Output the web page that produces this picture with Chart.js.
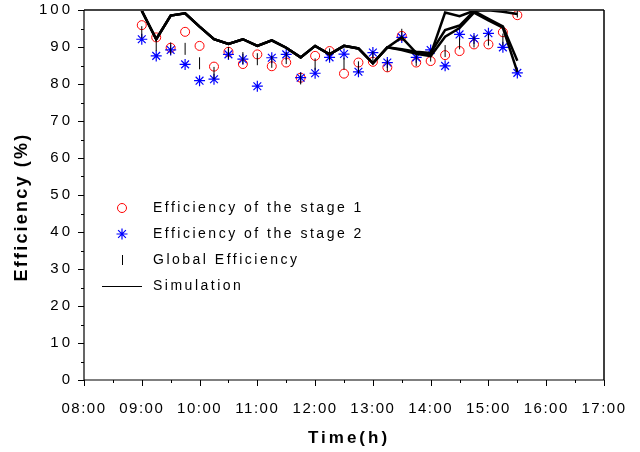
<!DOCTYPE html>
<html lang="en">
<head>
    <meta charset="UTF-8">
    <script src="https://cdn.jsdelivr.net/npm/chart.js"></script>
    <title>Efficiency vs time</title>
    <style>
        html, body { margin: 0; padding: 0; background: #fff; }
        #wrap { width: 640px; height: 452px; }
    </style>
</head>
<body>
    <div id="wrap"><canvas id="effChart"></canvas></div>
    <script>
        // measurement times, every 15 min
        const times = ['09:00', '09:15', '09:30', '09:45', '10:00', '10:15', '10:30', '10:45', '11:00',
            '11:15', '11:30', '11:45', '12:00', '12:15', '12:30', '12:45', '13:00', '13:15', '13:30',
            '13:45', '14:00', '14:15', '14:30', '14:45', '15:00', '15:15', '15:30'];

        const stage1 = [95.9, 92.6, 89.8, 94.1, 90.3, 84.7, 88.7, 85.4, 88.0, 84.8, 85.8, 81.7, 87.6, 88.9,
            82.8, 85.8, 86.0, 84.5, 93.0, 85.8, 86.2, 87.8, 88.9, 90.7, 90.7, 94.0, 98.6];
        const stage2 = [92.1, 87.6, 89.2, 85.3, 80.9, 81.3, 88.0, 86.7, 79.4, 87.1, 88.0, 81.7, 82.9, 87.2,
            88.1, 83.3, 88.5, 85.8, 92.6, 87.2, 89.2, 84.9, 93.4, 92.3, 93.7, 89.9, 83.0];
        const globalEff = [94.0, 90.5, 89.6, 89.5, 85.6, 83.0, 88.4, 87.0, 86.7, 86.0, 87.0, 81.5, 85.3, 88.0,
            85.5, 84.5, 87.2, 85.0, 93.3, 86.5, 87.7, 88.9, 91.0, 91.5, 92.0, 92.0, 99.6];

        // three simulation runs
        const simA = [99.8, 92.1, 98.5, 99.1, 95.5, 92.1, 90.8, 92.1, 90.3, 91.8, 89.8, 87.2, 90.3, 88.0,
            90.3, 89.6, 85.6, 89.9, 92.6, 88.4, 88.0, 99.3, 98.3, 99.8, 99.9, 99.5, 98.9];
        const simB = [99.8, 92.1, 98.5, 99.1, 95.5, 92.1, 90.8, 92.1, 90.3, 91.8, 89.8, 87.2, 90.3, 88.0,
            90.3, 89.6, 85.6, 89.9, 89.4, 88.7, 88.4, 94.6, 95.8, 99.7, 97.6, 95.6, 86.3];
        const simC = [99.8, 92.1, 98.5, 99.1, 95.5, 92.1, 90.8, 92.1, 90.3, 91.8, 89.8, 87.2, 90.3, 88.0,
            90.3, 89.6, 85.6, 89.9, 89.2, 88.2, 87.5, 92.8, 95.1, 99.3, 97.2, 95.2, 83.3];

        const legendLabels = ['Efficiency of the stage 1', 'Efficiency of the stage 2', 'Global Efficiency', 'Simulation'];
        const xTitle = 'Time(h)';
        const yTitle = 'Efficiency (%)';

        const FONT = "'Liberation Sans', Arial, sans-serif";

        function toHours(t) {
            const p = t.split(':');
            return +p[0] + (+p[1]) / 60;
        }
        function fmtHour(v) {
            return String(v).padStart(2, '0') + ':00';
        }
        function pts(vals) {
            return vals.map((v, i) => ({ x: toHours(times[i]), y: v }));
        }

        const simStyle = {
            type: 'line',
            borderColor: '#000',
            borderWidth: 2.5,
            pointRadius: 0,
            fill: false,
            tension: 0,
            order: 0
        };

        // axes frame, tick marks, y labels, titles and legend
        const decor = {
            id: 'decor',
            beforeDraw(chart) {
                chart.ctx.letterSpacing = '1.5px';
            },
            afterDraw(chart) {
                const ctx = chart.ctx;
                const a = chart.chartArea;
                const xs = chart.scales.x, ys = chart.scales.y;
                ctx.save();
                ctx.letterSpacing = '0px';
                // top and right frame
                ctx.strokeStyle = '#444';
                ctx.lineWidth = 2;
                ctx.beginPath();
                ctx.moveTo(a.left, a.top);
                ctx.lineTo(a.right, a.top);
                ctx.stroke();
                ctx.strokeStyle = '#000';
                ctx.lineWidth = 1.5;
                ctx.beginPath();
                ctx.moveTo(a.right, a.top);
                ctx.lineTo(a.right, a.bottom);
                ctx.stroke();
                // axes
                ctx.lineWidth = 1.2;
                ctx.beginPath();
                ctx.moveTo(a.left, a.top);
                ctx.lineTo(a.left, a.bottom);
                ctx.lineTo(a.right, a.bottom);
                ctx.stroke();
                // tick marks
                ctx.lineWidth = 1;
                ctx.beginPath();
                for (let h = xs.min; h <= xs.max; h += 0.5) {
                    const px = Math.round(xs.getPixelForValue(h)) + 0.5;
                    const len = Number.isInteger(h) ? 6 : 3;
                    ctx.moveTo(px, a.bottom);
                    ctx.lineTo(px, a.bottom + len);
                }
                for (let v = ys.min; v <= ys.max; v += 5) {
                    const py = Math.round(ys.getPixelForValue(v)) + 0.5;
                    const len = v % 10 === 0 ? 6 : 3;
                    ctx.moveTo(a.left - len, py);
                    ctx.lineTo(a.left, py);
                }
                ctx.stroke();

                // y tick labels
                ctx.fillStyle = '#000';
                ctx.font = '15px ' + FONT;
                ctx.letterSpacing = '3px';
                ctx.textAlign = 'right';
                ctx.textBaseline = 'middle';
                ys.ticks.forEach(t => ctx.fillText(String(t.value), a.left - 11, ys.getPixelForValue(t.value)));

                // axis titles
                ctx.font = 'bold 17px ' + FONT;
                ctx.textAlign = 'center';
                ctx.fillText(xTitle, (a.left + a.right) / 2 + 5, 438);
                ctx.save();
                ctx.font = 'bold 18px ' + FONT;
                ctx.letterSpacing = '2.2px';
                ctx.translate(22, 207);
                ctx.rotate(-Math.PI / 2);
                ctx.fillText(yTitle, 0, 0);
                ctx.restore();

                // legend
                const lx = 122, tx = 153, y0 = 208, dy = 26;
                ctx.font = '14px ' + FONT;
                ctx.letterSpacing = '2.5px';
                ctx.textAlign = 'left';
                legendLabels.forEach((t, i) => ctx.fillText(t, tx, y0 + i * dy));
                ctx.letterSpacing = '0px';
                // circle
                ctx.strokeStyle = '#ff0000';
                ctx.lineWidth = 1;
                ctx.beginPath();
                ctx.arc(lx, y0, 4.5, 0, Math.PI * 2);
                ctx.stroke();
                // star
                ctx.strokeStyle = '#0000ff';
                ctx.lineWidth = 1.2;
                ctx.beginPath();
                for (let k = 0; k < 4; k++) {
                    const ang = k * Math.PI / 4;
                    ctx.moveTo(lx - Math.cos(ang) * 5.5, y0 + dy - Math.sin(ang) * 5.5);
                    ctx.lineTo(lx + Math.cos(ang) * 5.5, y0 + dy + Math.sin(ang) * 5.5);
                }
                ctx.stroke();
                // dash
                ctx.strokeStyle = '#000';
                ctx.lineWidth = 1;
                ctx.beginPath();
                ctx.moveTo(lx + 0.5, y0 + 2 * dy - 5);
                ctx.lineTo(lx + 0.5, y0 + 2 * dy + 5);
                ctx.stroke();
                // line
                ctx.beginPath();
                ctx.moveTo(102, y0 + 3 * dy + 0.5);
                ctx.lineTo(142, y0 + 3 * dy + 0.5);
                ctx.stroke();
                ctx.restore();
            }
        };

        const ctx = document.getElementById('effChart').getContext('2d');
        const effChart = new Chart(ctx, {
            type: 'scatter',
            data: {
                datasets: [
                    Object.assign({ label: 'Simulation', data: pts(simA) }, simStyle),
                    Object.assign({ label: 'Simulation B', data: pts(simB) }, simStyle),
                    Object.assign({ label: 'Simulation C', data: pts(simC) }, simStyle),
                    {
                        label: legendLabels[2],
                        data: pts(globalEff),
                        pointStyle: 'line',
                        rotation: 90,
                        pointRadius: 6,
                        borderColor: '#000',
                        borderWidth: 1,
                        order: 1
                    },
                    {
                        label: legendLabels[1],
                        data: pts(stage2),
                        pointStyle: 'star',
                        pointRadius: 5.5,
                        borderColor: '#0000ff',
                        backgroundColor: '#0000ff',
                        borderWidth: 1.2,
                        order: 2
                    },
                    {
                        label: legendLabels[0],
                        data: pts(stage1),
                        pointStyle: 'circle',
                        pointRadius: 4.5,
                        borderColor: '#ff0000',
                        backgroundColor: 'rgba(0,0,0,0)',
                        borderWidth: 1,
                        order: 3
                    }
                ]
            },
            options: {
                responsive: true,
                maintainAspectRatio: false,
                animation: false,
                events: [],
                layout: { padding: { left: 0, right: 36, top: 10, bottom: 0 } },
                plugins: {
                    legend: { display: false },
                    tooltip: { enabled: false }
                },
                scales: {
                    x: {
                        type: 'linear',
                        min: 8,
                        max: 17,
                        afterFit(scale) {
                            scale.height = 72;
                            scale.paddingLeft = 0;
                            scale.paddingRight = 0;
                        },
                        grid: { display: false, drawTicks: false },
                        border: { display: false },
                        ticks: {
                            stepSize: 1,
                            padding: 20,
                            maxRotation: 0,
                            color: '#000',
                            font: { family: FONT, size: 15 },
                            callback: (v) => fmtHour(v)
                        }
                    },
                    y: {
                        min: 0,
                        max: 100,
                        afterFit(scale) {
                            scale.width = 84;
                            scale.paddingTop = 0;
                            scale.paddingBottom = 0;
                        },
                        grid: { display: false, drawTicks: false },
                        border: { display: false },
                        ticks: {
                            stepSize: 10,
                            display: false
                        }
                    }
                }
            },
            plugins: [decor]
        });
    </script>
</body>
</html>
